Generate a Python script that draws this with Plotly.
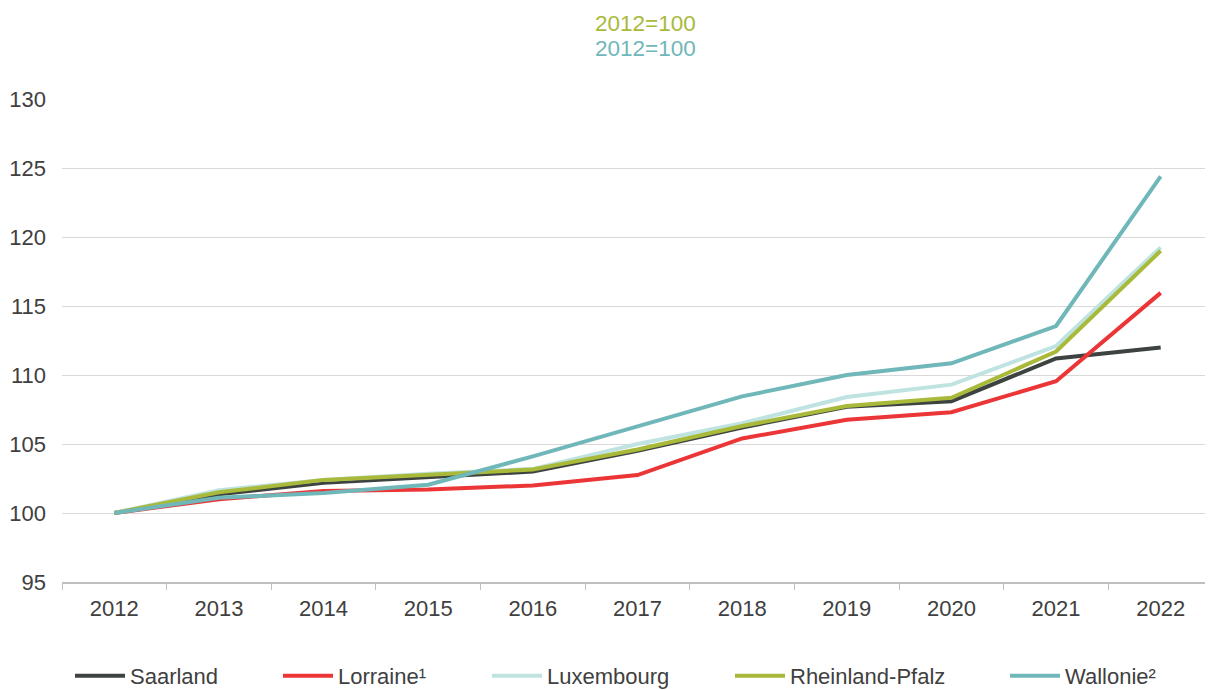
import plotly.graph_objects as go

years = ["2012", "2013", "2014", "2015", "2016", "2017", "2018", "2019", "2020", "2021", "2022"]
saarland = [100, 101.35, 102.2, 102.6, 103.0, 104.5, 106.2, 107.7, 108.1, 111.2, 112.0]
lorraine = [100, 101.0, 101.6, 101.7, 102.0, 102.75, 105.4, 106.75, 107.3, 109.55, 115.95]
luxembourg = [100, 101.65, 102.4, 102.85, 103.2, 105.0, 106.5, 108.4, 109.3, 112.1, 119.25]
rheinland = [100, 101.5, 102.4, 102.8, 103.15, 104.6, 106.3, 107.75, 108.35, 111.7, 119.0]
wallonie = [100, 101.1, 101.45, 102.05, 104.1, 106.3, 108.45, 110.0, 110.85, 113.55, 124.4]

names = ["Saarland", "Lorraine¹", "Luxembourg", "Rheinland-Pfalz", "Wallonie²"]
colors = ["#3d4340", "#ec3537", "#bfe3e1", "#a9b93a", "#6fb7b9"]
series = [saarland, lorraine, luxembourg, rheinland, wallonie]
legend_ids = ["legend", "legend2", "legend3", "legend4", "legend5"]
legend_x_px = [75, 283, 492, 735, 1010]

# page has an 8px body margin; figure drawn at (8, 8)
OFF = 8
W, H = 1213 - OFF, 690 - OFF
font = "Liberation Sans, Arial, sans-serif"
fs = 22

fig = go.Figure()
for n, c, s, lid in zip(names, colors, series, legend_ids):
    fig.add_trace(go.Scatter(x=years, y=s, name=n, mode="lines",
                             line=dict(color=c, width=4), legend=lid))

legend_layout = {}
for lid, px in zip(legend_ids, legend_x_px):
    legend_layout[lid] = dict(
        orientation="h", xref="container", yref="container",
        x=(px - OFF - 5) / W, xanchor="left", y=(H - (676 - OFF)) / H, yanchor="middle",
        font=dict(size=fs, color="#404040", family=font), itemwidth=50,
        bgcolor="rgba(0,0,0,0)", borderwidth=0,
    )

top, bottom, left = 99 - OFF, 582 - OFF, 62 - OFF
ph = bottom - top
fig.update_layout(
    width=W, height=H,
    margin=dict(l=left, r=0, t=top, b=H - bottom, autoexpand=False),
    plot_bgcolor="white", paper_bgcolor="white",
    font=dict(family=font, size=fs, color="#404040"),
    showlegend=True,
    xaxis=dict(type="category", range=[-0.5, 10.5], showgrid=False, showline=True,
               linecolor="#bfbfbf", linewidth=1.5, ticks="outside",
               tickson="boundaries", ticklen=6, tickcolor="#bfbfbf",
               tickfont=dict(size=fs, color="#404040"), ticklabelstandoff=6,
               automargin=False),
    yaxis=dict(range=[95, 130], dtick=5, showgrid=True, gridcolor="#d9d9d9",
               gridwidth=1, zeroline=False, showline=False,
               tickfont=dict(size=fs, color="#404040"), ticklabelstandoff=15,
               automargin=False),
    annotations=[
        dict(text="2012=100", xref="paper", yref="paper", x=0.507, y=(bottom - (23 - OFF)) / ph,
             showarrow=False, font=dict(size=22.5, color="#a9b93a"), yanchor="middle"),
        dict(text="2012=100", xref="paper", yref="paper", x=0.507, y=(bottom - (49 - OFF)) / ph,
             showarrow=False, font=dict(size=22.5, color="#6fb7b9"), yanchor="middle"),
    ],
    **legend_layout,
)

fig.write_html("out.html")
